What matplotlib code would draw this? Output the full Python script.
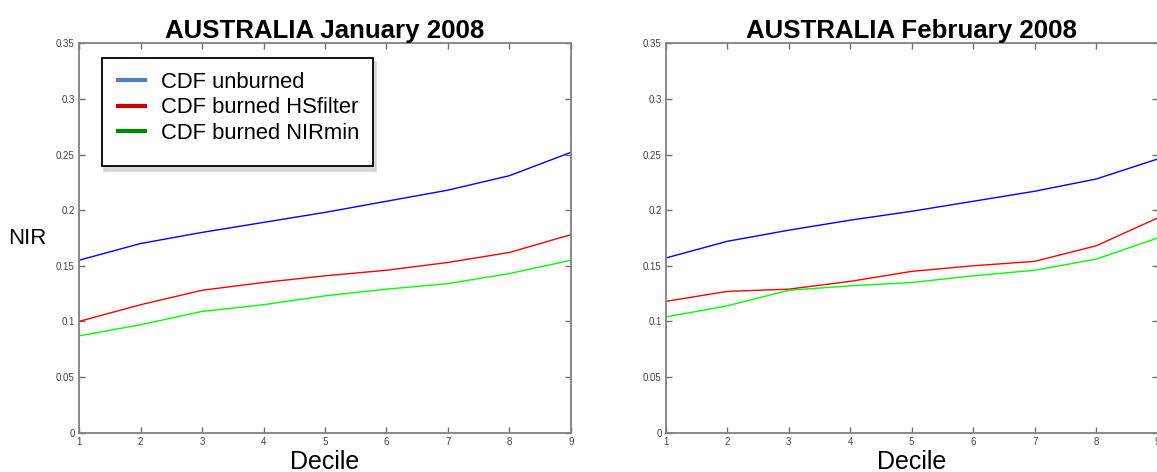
import matplotlib.pyplot as plt
from matplotlib.lines import Line2D
from matplotlib.legend_handler import HandlerBase

plt.rcParams['font.family'] = ['Liberation Sans', 'DejaVu Sans']

deciles = [1, 2, 3, 4, 5, 6, 7, 8, 9]

jan_unburned = [0.155, 0.170, 0.180, 0.189, 0.198, 0.208, 0.218, 0.231, 0.252]
jan_hsfilter = [0.100, 0.115, 0.128, 0.135, 0.141, 0.146, 0.153, 0.162, 0.178]
jan_nirmin = [0.087, 0.097, 0.109, 0.115, 0.123, 0.129, 0.134, 0.143, 0.155]

feb_unburned = [0.157, 0.172, 0.182, 0.191, 0.199, 0.208, 0.217, 0.228, 0.246]
feb_hsfilter = [0.118, 0.127, 0.129, 0.136, 0.145, 0.150, 0.154, 0.168, 0.193]
feb_nirmin = [0.104, 0.114, 0.128, 0.132, 0.135, 0.141, 0.146, 0.156, 0.175]

titles = ['AUSTRALIA January 2008', 'AUSTRALIA February 2008']
yticks = [0, 0.05, 0.1, 0.15, 0.2, 0.25, 0.3, 0.35]
ytick_labels = ['0', '0.05', '0.1', '0.15', '0.2', '0.25', '0.3', '0.35']
legend_labels = ['CDF unburned', 'CDF burned HSfilter', 'CDF burned NIRmin']


class BlankHandler(HandlerBase):
    # empty row that only adds a little room at the bottom of the legend box
    def legend_artist(self, legend, orig_handle, fontsize, handlebox):
        handlebox.height = 0
        handlebox.ydescent = 0
        a = Line2D([], [])
        handlebox.add_artist(a)
        return a


fig = plt.figure(figsize=(11.57, 4.72), dpi=100)
ax1 = fig.add_axes([0.0683, 0.0833, 0.4252, 0.825])
ax2 = fig.add_axes([0.5754, 0.0833, 0.4252, 0.825])

data = [(jan_unburned, jan_hsfilter, jan_nirmin),
        (feb_unburned, feb_hsfilter, feb_nirmin)]

for ax, title, (ub, hs, nm) in zip([ax1, ax2], titles, data):
    ax.plot(deciles, ub, color='#0000ff', lw=1.0)
    ax.plot(deciles, hs, color='#ff0000', lw=1.0)
    ax.plot(deciles, nm, color='#00ff00', lw=1.0)
    ax.set_xlim(1, 9)
    ax.set_ylim(0, 0.35)
    ax.set_xticks(deciles)
    ax.set_yticks(yticks)
    ax.set_yticklabels(ytick_labels)
    ax.tick_params(direction='in', top=True, right=True, length=4, width=1,
                   colors='#707070', labelcolor='#444444', labelsize=7, pad=3)
    for s in ax.spines.values():
        s.set_color('#808080')
        s.set_linewidth(1.3)
    ax.set_title(title, fontsize=18.6, fontweight='bold', pad=4)
    ax.set_xlabel('Decile', fontsize=18, labelpad=2)

fig.text(0.024, 0.495, 'NIR', fontsize=16, ha='center', va='center')

blank = Line2D([], [], color='none', lw=0)
handles = [Line2D([], [], color='#4f81bd', lw=3, solid_capstyle='butt'),
           Line2D([], [], color='#cc0000', lw=3, solid_capstyle='butt'),
           Line2D([], [], color='#008a00', lw=3, solid_capstyle='butt'),
           blank]
leg = ax1.legend(handles, legend_labels + [''], loc='upper left',
                 bbox_to_anchor=(0.046, 0.963), fontsize=15.8, frameon=True,
                 fancybox=False, shadow={'color': '#d0d0d0', 'alpha': 0.8, 'ox': 2, 'oy': -3},
                 handlelength=1.4, handletextpad=0.65,
                 labelspacing=0.2, borderpad=0.65, borderaxespad=0,
                 handler_map={blank: BlankHandler()})
leg.get_texts()[3].set_fontsize(2)
leg.get_frame().set_edgecolor('black')
leg.get_frame().set_linewidth(1.3)

fig.savefig('out.png', dpi=100)
